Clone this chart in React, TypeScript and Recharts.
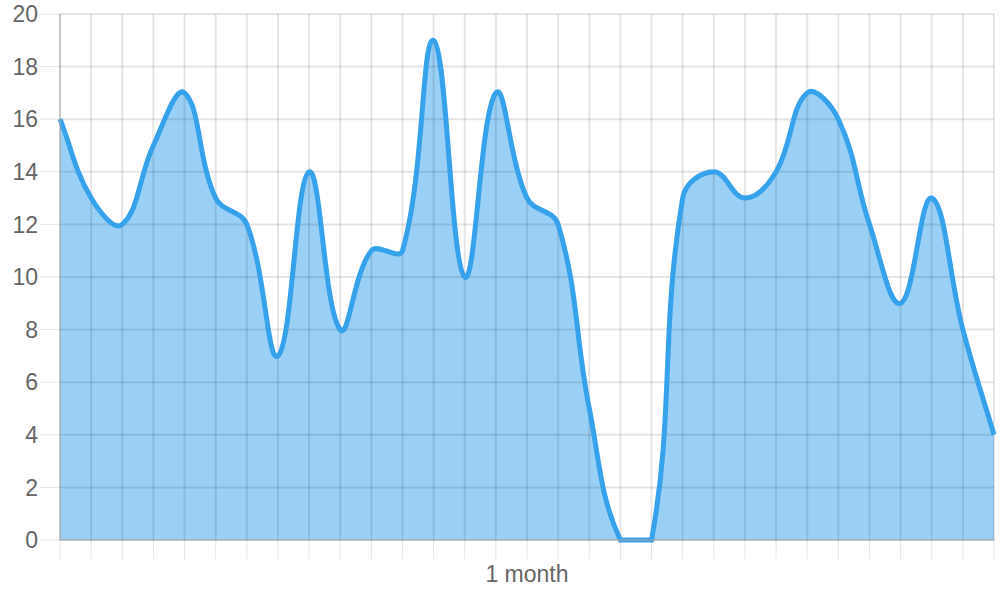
import {
  Area,
  CartesianGrid,
  ComposedChart,
  Line,
  ReferenceLine,
  XAxis,
  YAxis,
} from "recharts"

// one point per day, no visible day labels
const days = [
  0, 1, 2, 3, 4, 5, 6, 7, 8, 9, 10, 11, 12, 13, 14, 15, 16, 17, 18, 19, 20, 21,
  22, 23, 24, 25, 26, 27, 28, 29, 30,
]
const values = [
  16, 13, 12, 15, 17, 13, 12, 7, 14, 8, 11, 11, 19, 10, 17, 13, 12, 5, 0, 0, 13,
  14, 13, 14, 17, 16, 12, 9, 13, 8, 4,
]
const yTicks = [0, 2, 4, 6, 8, 10, 12, 14, 16, 18, 20]
const xTitle = "1 month"

const data = days.map((day, i) => ({ day, value: values[i] }))

const WIDTH = 1000
const HEIGHT = 600
const MARGIN = { top: 14, right: 6, left: 0, bottom: 0 }
const Y_AXIS_WIDTH = 60
const X_AXIS_HEIGHT = 60

const FONT = "'Liberation Sans', Arial, Helvetica, sans-serif"
const BLUE = "#36a2eb"
const GRID = "rgba(0,0,0,0.1)"
const AXIS = "#aaaaaa"
const TEXT = "#666"

// plot box, used to cap the bezier control points like chart.js does
const plot = {
  left: MARGIN.left + Y_AXIS_WIDTH,
  right: WIDTH - MARGIN.right,
  top: MARGIN.top,
  bottom: HEIGHT - MARGIN.bottom - X_AXIS_HEIGHT,
}

const clamp = (v: number, lo: number, hi: number) => Math.max(lo, Math.min(hi, v))

// chart.js style "tension" spline as a d3 curve factory
const tensionCurve = (tension: number) => (ctx: any) => {
  let mode = NaN
  let pts: number[][] = []

  const draw = () => {
    const n = pts.length
    if (!n) return
    if (mode === 1) ctx.lineTo(pts[0][0], pts[0][1])
    else ctx.moveTo(pts[0][0], pts[0][1])

    const cps = pts.map((p, i) => {
      const prev = pts[Math.max(i - 1, 0)]
      const next = pts[Math.min(i + 1, n - 1)]
      const d01 = Math.hypot(p[0] - prev[0], p[1] - prev[1])
      const d12 = Math.hypot(next[0] - p[0], next[1] - p[1])
      const s01 = d01 / (d01 + d12) || 0
      const s12 = d12 / (d01 + d12) || 0
      const dx = next[0] - prev[0]
      const dy = next[1] - prev[1]
      return {
        x1: clamp(p[0] - tension * s01 * dx, plot.left, plot.right),
        y1: clamp(p[1] - tension * s01 * dy, plot.top, plot.bottom),
        x2: clamp(p[0] + tension * s12 * dx, plot.left, plot.right),
        y2: clamp(p[1] + tension * s12 * dy, plot.top, plot.bottom),
      }
    })

    for (let i = 1; i < n; i++) {
      ctx.bezierCurveTo(
        cps[i - 1].x2,
        cps[i - 1].y2,
        cps[i].x1,
        cps[i].y1,
        pts[i][0],
        pts[i][1]
      )
    }
  }

  return {
    areaStart() {
      mode = 0
    },
    areaEnd() {
      mode = NaN
    },
    lineStart() {
      pts = []
    },
    lineEnd() {
      draw()
      if (mode === 1) ctx.closePath()
      mode = 1 - mode
    },
    point(x: number, y: number) {
      pts.push([+x, +y])
    },
  }
}

const curve = tensionCurve(0.4)

export default function App() {
  return (
    <div style={{ position: "absolute", left: 0, top: 0, fontFamily: FONT }}>
      <ComposedChart width={WIDTH} height={HEIGHT} data={data} margin={MARGIN}>
        <CartesianGrid stroke="#ffffff" strokeOpacity={0} />
        <XAxis
          dataKey="day"
          type="number"
          domain={[0, 30]}
          ticks={days}
          interval={0}
          height={X_AXIS_HEIGHT}
          tickSize={19}
          tickFormatter={() => ""}
          axisLine={{ stroke: AXIS }}
          tickLine={{ stroke: GRID }}
          label={{
            value: xTitle,
            position: "insideBottom",
            offset: 18,
            fill: TEXT,
            fontSize: 23,
            fontFamily: FONT,
          }}
        />
        <YAxis
          type="number"
          domain={[0, 20]}
          ticks={yTicks}
          interval={0}
          width={Y_AXIS_WIDTH}
          tickSize={20}
          tickMargin={2}
          axisLine={{ stroke: AXIS }}
          tickLine={{ stroke: GRID }}
          tick={{ fill: TEXT, fontSize: 23, fontFamily: FONT }}
        />
        <Area
          dataKey="value"
          type={curve as any}
          stroke="none"
          fill={BLUE}
          fillOpacity={0.5}
          dot={false}
          activeDot={false}
          isAnimationActive={false}
        />
        {/* grid drawn over the fill, as in the source */}
        {days.map((d) => (
          <ReferenceLine key={`x${d}`} x={d} stroke={GRID} strokeWidth={2} />
        ))}
        {yTicks.map((t) => (
          <ReferenceLine key={`y${t}`} y={t} stroke={GRID} strokeWidth={2} />
        ))}
        <Line
          dataKey="value"
          type={curve as any}
          stroke={BLUE}
          strokeWidth={5}
          dot={false}
          activeDot={false}
          isAnimationActive={false}
        />
      </ComposedChart>
    </div>
  )
}
